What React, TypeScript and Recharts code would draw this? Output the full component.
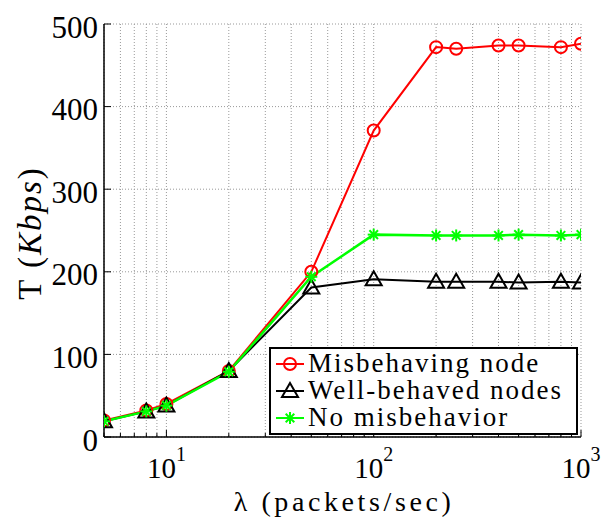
import { LineChart, Line, XAxis, YAxis, CartesianGrid, Legend } from "recharts";

const rates = [5, 8, 10, 20, 50, 100, 200, 250, 400, 500, 800, 1000];
const misbehaving = [20, 32, 40, 80, 200, 371, 472, 470, 474, 474, 472, 476];
const wellBehaved = [19, 31, 38, 80, 181, 191, 188, 188, 188, 187, 188, 187];
const noMisbehavior = [19, 31, 38, 79, 194, 245, 244, 244, 244, 245, 244, 245];

const xTicks = [
  5, 6, 7, 8, 9, 10, 20, 30, 40, 50, 60, 70, 80, 90, 100, 200, 300, 400, 500,
  600, 700, 800, 900, 1000,
];
const xMajor = [10, 100, 1000];
const yTicks = [0, 100, 200, 300, 400, 500];

const seriesNames = ["Misbehaving node", "Well-behaved nodes", "No misbehavior"];

const data = rates.map((r, i) => ({
  rate: r,
  mis: misbehaving[i],
  well: wellBehaved[i],
  none: noMisbehavior[i],
}));

const FONT =
  "'Liberation Serif', 'Times New Roman', Tinos, 'DejaVu Serif', 'Noto Serif', FreeSerif, serif";
const GREEN = "#00ff00";

function CircleMark({ cx, cy }: any) {
  return <circle cx={cx} cy={cy} r={6} fill="none" stroke="#ff0000" strokeWidth={2} />;
}

function TriMark({ cx, cy }: any) {
  return (
    <polygon
      points={`${cx},${cy - 8} ${cx - 8},${cy + 6} ${cx + 8},${cy + 6}`}
      fill="none"
      stroke="#000"
      strokeWidth={2}
    />
  );
}

function StarMark({ cx, cy }: any) {
  const s = 6;
  const d = 4.3;
  return (
    <g stroke={GREEN} strokeWidth={2}>
      <line x1={cx - s} y1={cy} x2={cx + s} y2={cy} />
      <line x1={cx} y1={cy - s} x2={cx} y2={cy + s} />
      <line x1={cx - d} y1={cy - d} x2={cx + d} y2={cy + d} />
      <line x1={cx - d} y1={cy + d} x2={cx + d} y2={cy - d} />
    </g>
  );
}

function BottomTick({ x, y, payload }: any) {
  const major = xMajor.includes(payload.value);
  const exp = Math.round(Math.log10(payload.value));
  return (
    <g>
      <line x1={x} y1={y} x2={x} y2={y - (major ? 7 : 4)} stroke="#000" strokeWidth={1} />
      {major && (
        <text x={x} y={y + 41} textAnchor="middle" style={{ fontFamily: FONT }} fontSize={29} fill="#000">
          10
          <tspan fontSize={20} dy={-17}>
            {exp}
          </tspan>
        </text>
      )}
    </g>
  );
}

function TopTick({ x, y, payload }: any) {
  const major = xMajor.includes(payload.value);
  return <line x1={x} y1={y} x2={x} y2={y + (major ? 7 : 4)} stroke="#000" strokeWidth={1} />;
}

function LeftTick({ x, y, payload }: any) {
  return (
    <g>
      <line x1={x} y1={y} x2={x + 7} y2={y} stroke="#000" strokeWidth={1} />
      <text
        x={x - 6}
        y={y + 3}
        textAnchor="end"
        dominantBaseline="central"
        style={{ fontFamily: FONT }}
        fontSize={31}
        fill="#000"
      >
        {payload.value}
      </text>
    </g>
  );
}

function RightTick({ x, y }: any) {
  return <line x1={x} y1={y} x2={x - 7} y2={y} stroke="#000" strokeWidth={1} />;
}

function YLabel() {
  return (
    <text
      transform="rotate(-90, 30, 233)"
      x={30}
      y={233}
      textAnchor="middle"
      dominantBaseline="central"
      style={{ fontFamily: FONT }}
      fontSize={33}
      letterSpacing={2}
      fill="#000"
    >
      T (<tspan fontStyle="italic">Kbps</tspan>)
    </text>
  );
}

function XLabel() {
  return (
    <text
      x={344}
      y={511}
      textAnchor="middle"
      style={{ fontFamily: FONT }}
      fontSize={28}
      letterSpacing={3.6}
      fill="#000"
    >
      λ (packets/sec)
    </text>
  );
}

const legendMarks = [
  { color: "#ff0000", Mark: CircleMark },
  { color: "#000000", Mark: TriMark },
  { color: GREEN, Mark: StarMark },
];

function LegendBox() {
  return (
    <div
      style={{
        border: "2px solid #000",
        background: "#fff",
        padding: "1px 4px 2px 4px",
        fontFamily: FONT,
        fontSize: 27,
        letterSpacing: 2,
        color: "#000",
        boxSizing: "border-box",
        width: 309,
      }}
    >
      {seriesNames.map((name, i) => {
        const { color, Mark } = legendMarks[i];
        return (
          <div key={name} style={{ display: "flex", alignItems: "center", height: 27, whiteSpace: "nowrap" }}>
            <svg width={30} height={24} style={{ marginRight: 3, flex: "none" }}>
              <line x1={1} y1={12} x2={29} y2={12} stroke={color} strokeWidth={2} />
              <Mark cx={15} cy={12} />
            </svg>
            <span style={{ lineHeight: "27px" }}>{name}</span>
          </div>
        );
      })}
    </div>
  );
}

export default function App() {
  return (
    <div style={{ position: "fixed", left: 0, top: 0, width: 602, height: 518, background: "#fff" }}>
      <LineChart
        width={602}
        height={518}
        data={data}
        margin={{ top: 24, right: 21, left: 0, bottom: 0 }}
      >
        <CartesianGrid stroke="#999" strokeDasharray="1 2" />
        <XAxis
          dataKey="rate"
          type="number"
          scale="log"
          domain={[5, 1000]}
          ticks={xTicks}
          interval={0}
          allowDataOverflow
          height={81}
          tickSize={0}
          tickMargin={0}
          tick={<BottomTick />}
          axisLine={{ stroke: "#000", strokeWidth: 1.5 }}
          tickLine={false}
          label={<XLabel />}
        />
        <XAxis
          xAxisId="t"
          orientation="top"
          dataKey="rate"
          type="number"
          scale="log"
          domain={[5, 1000]}
          ticks={xTicks}
          interval={0}
          allowDataOverflow
          height={0}
          tickSize={0}
          tickMargin={0}
          tick={<TopTick />}
          axisLine={{ stroke: "#000", strokeWidth: 1.5 }}
          tickLine={false}
        />
        <YAxis
          type="number"
          domain={[0, 500]}
          ticks={yTicks}
          interval={0}
          width={104}
          tickSize={0}
          tickMargin={0}
          tick={<LeftTick />}
          axisLine={{ stroke: "#000", strokeWidth: 1.5 }}
          tickLine={false}
          label={<YLabel />}
        />
        <YAxis
          yAxisId="r"
          orientation="right"
          type="number"
          domain={[0, 500]}
          ticks={yTicks}
          interval={0}
          width={0}
          tickSize={0}
          tickMargin={0}
          tick={<RightTick />}
          axisLine={{ stroke: "#000", strokeWidth: 1.5 }}
          tickLine={false}
        />
        <Legend
          layout="vertical"
          align="center"
          verticalAlign="middle"
          wrapperStyle={{ position: "absolute", left: 269, top: 347, width: 309 }}
          content={() => <LegendBox />}
        />
        <Line
          dataKey="mis"
          name={seriesNames[0]}
          stroke="#ff0000"
          strokeWidth={2}
          dot={(p: any) => <CircleMark key={`m${p.index}`} cx={p.cx} cy={p.cy} />}
          isAnimationActive={false}
        />
        <Line
          dataKey="well"
          name={seriesNames[1]}
          stroke="#000000"
          strokeWidth={2}
          dot={(p: any) => <TriMark key={`w${p.index}`} cx={p.cx} cy={p.cy} />}
          isAnimationActive={false}
        />
        <Line
          dataKey="none"
          name={seriesNames[2]}
          stroke={GREEN}
          strokeWidth={2.5}
          dot={(p: any) => <StarMark key={`n${p.index}`} cx={p.cx} cy={p.cy} />}
          isAnimationActive={false}
        />
      </LineChart>
    </div>
  );
}
